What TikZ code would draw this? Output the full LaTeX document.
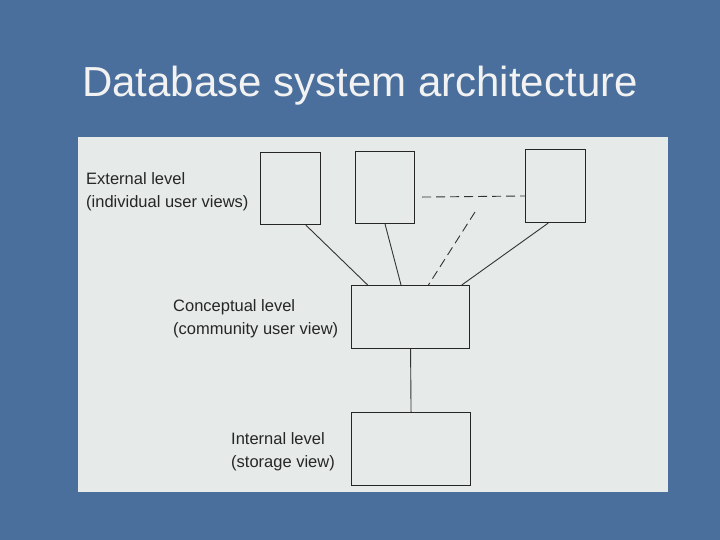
\documentclass[tikz,border=0pt]{standalone}
\usepackage{fontspec}
\setmainfont{Liberation Sans}
\usetikzlibrary{positioning,calc}
\definecolor{slideblue}{HTML}{4B6F9C}
\definecolor{panel}{HTML}{E6EAE8}
\definecolor{titlegray}{HTML}{F2F2F2}
\tikzset{
  viewbox/.style={draw=black!85,line width=1.1pt,fill=panel,anchor=north west,inner sep=0pt},
  levellabel/.style={anchor=north west,align=left,font=\fontsize{16.5}{23}\selectfont,text=black!85,inner sep=0pt},
  link/.style={line width=0.9pt,black!80},
  dashlink/.style={link,dash pattern=on 9pt off 5pt}
}

\begin{document}
\begin{tikzpicture} [x=1pt,y=-1pt]

  \fill[slideblue] (0,0) rectangle (720,540);
  \useasboundingbox (0,0) rectangle (720,540);
  \node (title) at (360,86) [text=titlegray,font=\fontsize{42}{48}\selectfont] {Database system architecture};
  \fill[panel] (78,137) rectangle (668,492);

  \node[viewbox,minimum width=60pt,minimum height=72pt] (ext1) at (260,152) {};
  \node[viewbox,minimum width=59pt,minimum height=72pt] (ext2) at (355,151) {};
  \node[viewbox,minimum width=60pt,minimum height=73pt] (ext3) at (525,149) {};
  \node[viewbox,minimum width=118pt,minimum height=63pt] (conc) at (351,285) {};
  \node[viewbox,minimum width=119pt,minimum height=73pt] (int) at (351,412) {};

  \node[levellabel] (extlab) at (86,172) {External level\\(individual user views)};
  \node[levellabel] (conclab) at (173,299) {Conceptual level\\(community user view)};
  \node[levellabel] (intlab) at (231,432) {Internal level\\(storage view)};

  \coordinate (gap) at (475,212);
  \draw[link] ($(ext1.south west)!0.75!(ext1.south east)$) -- ($(conc.north west)!0.14!(conc.north east)$);
  \draw[link] ($(ext2.south west)!0.5!(ext2.south east)$) -- ($(conc.north west)!0.42!(conc.north east)$);
  \draw[dashlink] (gap) -- ($(conc.north west)!0.65!(conc.north east)$);
  \draw[link] ($(ext3.south west)!0.38!(ext3.south east)$) -- ($(conc.north west)!0.93!(conc.north east)$);
  \draw[dashlink] ($(ext2.north east)!0.63!(ext2.south east)+(7,0)$) -- (ext3.west |- 0,196);
  \draw[link] (conc.south) -- (int.north);

\end{tikzpicture}
\end{document}
